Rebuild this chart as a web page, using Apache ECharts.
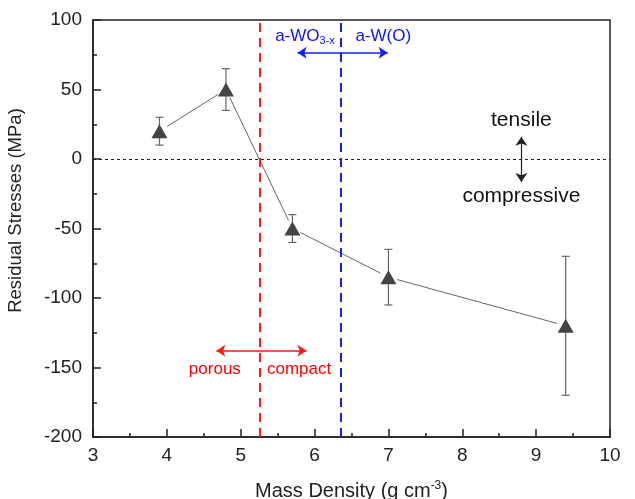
<!DOCTYPE html>
<html>
<head>
<meta charset="utf-8">
<script src="https://cdn.jsdelivr.net/npm/echarts@6/dist/echarts.min.js"></script>
<style>
  html, body { margin: 0; padding: 0; background: #fff; }
  #chart { width: 635px; height: 499px; }
</style>
</head>
<body>
<div id="chart"></div>
<script>
// Mass density of the films (g cm^-3)
const density = [3.9, 4.8, 5.7, 7.0, 9.4];
// Residual stress (MPa) and its error bar bounds
const stress = [20, 50, -50, -85, -120];
const stressHigh = [30, 65, -40, -65, -70];
const stressLow = [10, 35, -60, -105, -170];

// Boundaries between film regimes
const porousCompactBoundary = 5.26;
const oxideMetalBoundary = 6.36;

// Axis ranges
const xTicks = [3, 4, 5, 6, 7, 8, 9, 10];
const yTicks = [-200, -150, -100, -50, 0, 50, 100];

const FONT = '"Liberation Sans", Arial, sans-serif';

const chart = echarts.init(document.getElementById('chart'));

const errorData = density.map((d, i) => [d, stressLow[i], stressHigh[i]]);
// consecutive point pairs, joined by segments that stop short of the markers
const segmentData = density.slice(0, -1).map((d, i) => [d, stress[i], density[i + 1], stress[i + 1]]);

const option = {
  animation: false,
  backgroundColor: '#fff',
  grid: {
    left: 93, right: 25, top: 20, bottom: 62,
    containLabel: false, outerBoundsMode: 'none',
    show: true, borderColor: '#222', borderWidth: 1.5
  },
  xAxis: {
    type: 'value',
    min: xTicks[0], max: xTicks[xTicks.length - 1], interval: 1,
    name: 'Mass Density (g cm{sup|-3})',
    nameLocation: 'middle', nameGap: 43,
    nameTextStyle: {
      fontFamily: FONT, fontSize: 20, color: '#222',
      rich: { sup: { fontFamily: FONT, fontSize: 12, color: '#222', padding: [0, 0, 10, 0] } }
    },
    axisLine: { onZero: false, lineStyle: { color: '#222', width: 1.5 } },
    axisTick: { inside: true, length: 8, lineStyle: { color: '#222', width: 1.5 } },
    minorTick: { show: true, splitNumber: 2, length: 4, lineStyle: { color: '#222', width: 1.5 } },
    axisLabel: { fontFamily: FONT, fontSize: 19, color: '#222', margin: 9 },
    splitLine: { show: false }
  },
  yAxis: {
    type: 'value',
    min: yTicks[0], max: yTicks[yTicks.length - 1], interval: 50,
    name: 'Residual Stresses (MPa)',
    nameLocation: 'middle', nameGap: 68,
    nameTextStyle: { fontFamily: FONT, fontSize: 18.5, color: '#222', padding: [0, 0, 0, 36] },
    axisLine: { onZero: false, lineStyle: { color: '#222', width: 1.5 } },
    axisTick: { inside: true, length: 8, lineStyle: { color: '#222', width: 1.5 } },
    minorTick: { show: true, splitNumber: 2, length: 4, lineStyle: { color: '#222', width: 1.5 } },
    axisLabel: { fontFamily: FONT, fontSize: 19, color: '#222', margin: 11 },
    splitLine: { show: false }
  },
  series: [
    {
      // reference lines: zero stress and regime boundaries
      type: 'line',
      data: [],
      silent: true,
      markLine: {
        symbol: 'none',
        silent: true,
        label: { show: false },
        data: [
          { yAxis: 0, lineStyle: { color: '#222', width: 1, type: [3, 3] } },
          { xAxis: porousCompactBoundary, lineStyle: { color: '#ff1a1a', width: 2, type: [9, 6] } },
          { xAxis: oxideMetalBoundary, lineStyle: { color: '#1a1aff', width: 2, type: [9, 6] } }
        ]
      }
    },
    {
      // direction arrows for the annotated regions
      type: 'line',
      data: [],
      silent: true,
      markLine: {
        symbol: ['arrow', 'arrow'],
        symbolSize: [9, 9],
        silent: true,
        label: { show: false },
        data: [
          [{ coord: [4.67, -138], lineStyle: { color: '#ff1a1a', width: 1.5, type: 'solid' } }, { coord: [5.89, -138] }],
          [{ coord: [5.77, 76.5], lineStyle: { color: '#1a1aff', width: 1.5, type: 'solid' } }, { coord: [6.99, 76.5] }],
          [{ coord: [8.8, 16], lineStyle: { color: '#222', width: 1.2, type: 'solid' } }, { coord: [8.8, -16.5] }]
        ]
      }
    },
    {
      // connecting line between measurements
      type: 'custom',
      data: segmentData,
      z: 3,
      silent: true,
      renderItem: function (params, api) {
        const a = api.coord([api.value(0), api.value(1)]);
        const b = api.coord([api.value(2), api.value(3)]);
        const dx = b[0] - a[0], dy = b[1] - a[1];
        const len = Math.sqrt(dx * dx + dy * dy);
        const gap = 9;
        const ux = dx / len, uy = dy / len;
        return {
          type: 'line',
          shape: {
            x1: a[0] + ux * gap, y1: a[1] + uy * gap,
            x2: b[0] - ux * gap, y2: b[1] - uy * gap
          },
          style: { stroke: '#666', lineWidth: 1 }
        };
      }
    },
    {
      type: 'custom',
      data: errorData,
      z: 4,
      renderItem: function (params, api) {
        const x = api.value(0);
        const lo = api.coord([x, api.value(1)]);
        const hi = api.coord([x, api.value(2)]);
        const cap = 4;
        const style = { stroke: '#666', lineWidth: 1.2 };
        return {
          type: 'group',
          children: [
            { type: 'line', shape: { x1: lo[0], y1: lo[1], x2: hi[0], y2: hi[1] }, style },
            { type: 'line', shape: { x1: lo[0] - cap, y1: lo[1], x2: lo[0] + cap, y2: lo[1] }, style },
            { type: 'line', shape: { x1: hi[0] - cap, y1: hi[1], x2: hi[0] + cap, y2: hi[1] }, style }
          ]
        };
      }
    },
    {
      type: 'scatter',
      data: density.map((d, i) => [d, stress[i]]),
      symbol: 'triangle',
      symbolSize: [16, 14],
      itemStyle: { color: '#444', opacity: 1 },
      z: 5
    },
    {
      // region labels
      type: 'scatter',
      symbolSize: 0,
      silent: true,
      z: 6,
      itemStyle: { opacity: 1 },
      data: [
        { value: [4.65, -151], label: { formatter: 'porous', color: '#ff0000', fontSize: 17 } },
        { value: [5.79, -151], label: { formatter: 'compact', color: '#ff0000', fontSize: 17 } },
        { value: [5.87, 88], label: { formatter: 'a-WO{sub|3-x}', color: '#1010ff', fontSize: 17 } },
        { value: [6.93, 88], label: { formatter: 'a-W(O)', color: '#1010ff', fontSize: 17 } },
        { value: [8.8, 28], label: { formatter: 'tensile', color: '#111', fontSize: 21 } },
        { value: [8.8, -27], label: { formatter: 'compressive', color: '#111', fontSize: 21 } }
      ],
      label: {
        show: true,
        position: 'inside',
        opacity: 1,
        fontFamily: FONT,
        rich: {
          sub: { fontFamily: FONT, fontSize: 11, color: '#1010ff', padding: [9, 0, 0, 0] }
        }
      }
    }
  ]
};

chart.setOption(option);
</script>
</body>
</html>
